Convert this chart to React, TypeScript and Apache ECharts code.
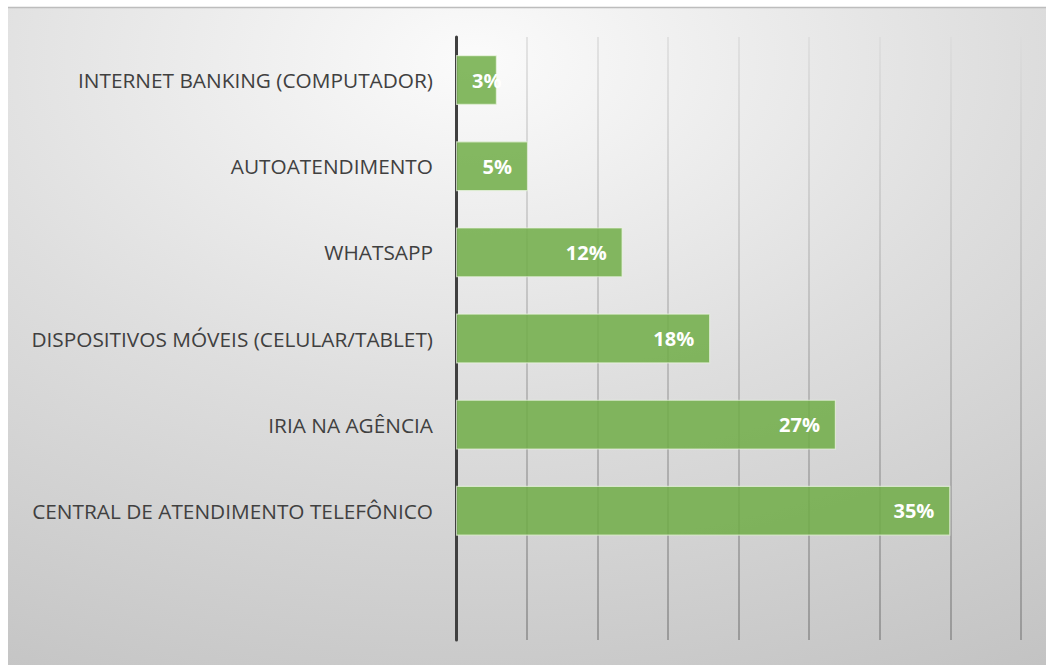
import React, { useEffect, useRef } from "react";
import * as echarts from "echarts";

const categories = [
  "INTERNET BANKING (COMPUTADOR)",
  "AUTOATENDIMENTO",
  "WHATSAPP",
  "DISPOSITIVOS MÓVEIS (CELULAR/TABLET)",
  "IRIA NA AGÊNCIA",
  "CENTRAL DE ATENDIMENTO TELEFÔNICO",
  "",
];
const values: (number | null)[] = [2.9, 5.1, 11.8, 18, 26.9, 35, null];
const axisMin = 0;
const axisMax = 40;
const axisInterval = 5;

const FONT = "'Open Sans', 'Noto Sans', sans-serif";

export default function App() {
  const ref = useRef<HTMLDivElement>(null);
  useEffect(() => {
    if (!ref.current) return;
    const chart = echarts.init(ref.current, undefined, { renderer: "svg" });
    const W = 1046;
    const H = 665;
    const gridTop = 37;
    const gridBottom = 640;
    const seriesData = values.map((v) =>
      v !== null && v < 4
        ? { value: v, label: { position: "insideLeft", distance: 16 } }
        : { value: v }
    );
    chart.setOption({
      animation: false,
      backgroundColor: "#ffffff",
      textStyle: { fontFamily: FONT },
      graphic: [
        {
          type: "rect",
          z: -10,
          silent: true,
          shape: { x: 8, y: 7, width: W - 8, height: H - 7 },
          style: {
            fill: new echarts.graphic.RadialGradient(0.45, 0.08, 1.15, [
              { offset: 0, color: "#fbfbfb" },
              { offset: 0.45, color: "#dedede" },
              { offset: 1, color: "#bfbfbf" },
            ]),
          },
        },
        {
          type: "line",
          z: -9,
          silent: true,
          shape: { x1: 8, y1: 7.5, x2: W, y2: 7.5 },
          style: { stroke: "#bdbdbd", lineWidth: 1.5 },
        },
      ],
      grid: { left: 456, right: 25, top: gridTop, bottom: H - gridBottom, containLabel: false },
      xAxis: {
        type: "value",
        min: axisMin,
        max: axisMax,
        interval: axisInterval,
        axisLabel: { show: false },
        axisLine: { show: false },
        axisTick: { show: false },
        splitLine: {
          show: true,
          lineStyle: {
            width: 1.5,
            color: new echarts.graphic.LinearGradient(
              0,
              gridTop,
              0,
              gridBottom,
              [
                { offset: 0, color: "#dcdcdc" },
                { offset: 1, color: "#8a8a8a" },
              ],
              true
            ),
          },
        },
      },
      yAxis: {
        type: "category",
        inverse: true,
        data: categories,
        axisLine: { show: true, lineStyle: { color: "#404040", width: 3 } },
        axisTick: { show: false },
        axisLabel: {
          color: "#404040",
          fontSize: 20.8,
          margin: 23,
          fontFamily: FONT,
        },
        splitLine: { show: false },
      },
      series: [
        {
          type: "bar",
          data: seriesData,
          barCategoryGap: "42%",
          itemStyle: {
            color: "rgba(112,173,71,0.85)",
            borderColor: "rgba(235,245,225,0.7)",
            borderWidth: 1.2,
          },
          label: {
            show: true,
            position: "insideRight",
            distance: 16,
            color: "#ffffff",
            fontWeight: "bold",
            fontSize: 20,
            fontFamily: FONT,
            formatter: (p: any) => Math.round(p.value) + "%",
          },
        },
      ],
    });
    return () => chart.dispose();
  }, []);
  return (
    <div
      ref={ref}
      style={{ position: "fixed", left: 0, top: 0, width: 1046, height: 665 }}
    />
  );
}
